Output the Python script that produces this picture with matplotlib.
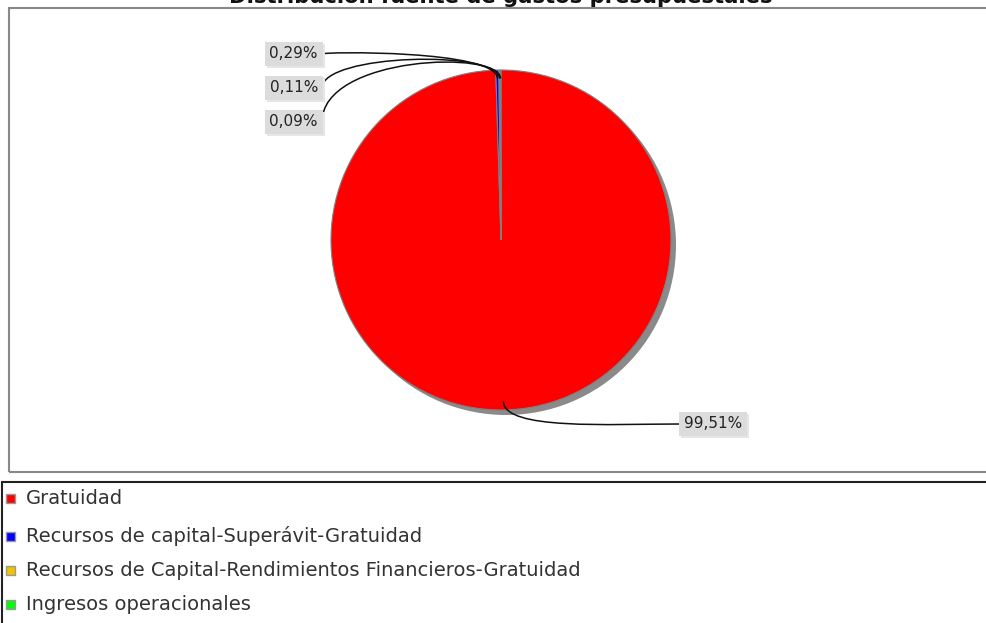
import matplotlib.pyplot as plt
import numpy as np
from matplotlib.patches import Rectangle, Circle, PathPatch
from matplotlib.path import Path

# Data
title = "Distribución fuente de gastos presupuestales"
categories = ["Gratuidad",
              "Recursos de capital-Superávit-Gratuidad",
              "Recursos de Capital-Rendimientos Financieros-Gratuidad",
              "Ingresos operacionales"]
values = [99.51, 0.29, 0.11, 0.09]
labels = ["99,51%", "0,29%", "0,11%", "0,09%"]
colors = ["#ff0000", "#0000ff", "#f2c200", "#00ff00"]

W, H = 987, 623


def py(y):
    # pixel row (from top) to data y
    return H - y


fig = plt.figure(figsize=(W / 100, H / 100), dpi=100)
ax = fig.add_axes([0, 0, 1, 1])

cx, cy, r = 501, py(240), 170

# shadow
ax.add_patch(Circle((cx + 5, cy - 5), r, facecolor="#8a8a8a", edgecolor="none", zorder=2))

wedges, _ = ax.pie(values, colors=colors, startangle=90, counterclock=False,
                   center=(cx, cy), radius=r, frame=True,
                   wedgeprops=dict(edgecolor="#808080", linewidth=0.8))
for w in wedges:
    w.set_zorder(3)
ax.set_xlim(0, W)
ax.set_ylim(0, H)
ax.set_aspect("auto")
ax.axis("off")

# plot frame and legend frame
ax.add_patch(Rectangle((9, py(472)), 990, 464, fill=False, edgecolor="#888888", lw=1.5, zorder=1))
ax.add_patch(Rectangle((2, py(630)), 1000, 148, fill=False, edgecolor="#222222", lw=1.5, zorder=1))

# title (cut off at top as in original)
fig.text(501 / W, 1 - 3 / H, title, ha="center", va="baseline",
         fontsize=15.2, fontweight="bold", color="#111111")

# label positions (pixels) - layout only
label_pos = [(680, 424, "left"), (322, 54, "right"), (322, 88, "right"), (322, 122, "right")]

cum = np.cumsum([0] + values)
tot = sum(values)
for i, (lx, ly, side) in enumerate(label_pos):
    mid = 90 - 360 * (cum[i] + cum[i + 1]) / 2 / tot
    th = np.deg2rad(mid)
    p0 = (cx + 0.95 * r * np.cos(th), cy + 0.95 * r * np.sin(th))
    p1 = (cx + 1.12 * r * np.cos(th), cy + 1.12 * r * np.sin(th))
    if side == "right":
        p2 = (lx, p1[1] - 2 * (i - 1) - 2)
    else:
        p2 = (lx - 70, py(ly))
    p3 = (lx, py(ly))
    path = Path([p0, p1, p2, p3], [Path.MOVETO, Path.CURVE4, Path.CURVE4, Path.CURVE4])
    ax.add_patch(PathPatch(path, facecolor="none", edgecolor="#111111", lw=1.1, zorder=4))

    tx = lx + 4 if side == "left" else lx - 4
    ha = "left" if side == "left" else "right"
    # box shadow
    ax.text(tx + 2, py(ly) - 2, labels[i], ha=ha, va="center", fontsize=11, color="none",
            bbox=dict(boxstyle="square,pad=0.3", facecolor="#e6e6e6", edgecolor="none"), zorder=5)
    ax.text(tx, py(ly), labels[i], ha=ha, va="center", fontsize=11, color="#222222",
            bbox=dict(boxstyle="square,pad=0.3", facecolor="#dcdcdc", edgecolor="none"), zorder=6)

# legend
leg_y = [498, 536, 570, 604]
for c, name, y in zip(colors, categories, leg_y):
    ax.add_patch(Rectangle((6, py(y) - 4.5), 9, 9, facecolor=c, edgecolor="#999999", lw=1, zorder=5))
    ax.text(26, py(y), name, ha="left", va="center", fontsize=14, color="#333333", zorder=5)

fig.savefig("out.png", dpi=100)
